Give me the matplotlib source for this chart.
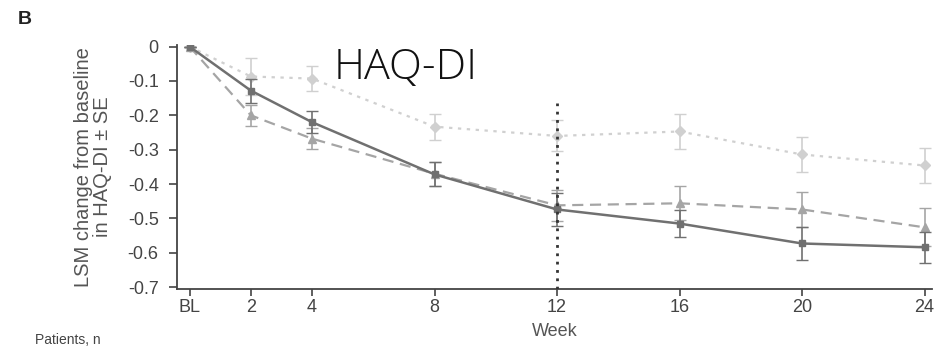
import matplotlib.pyplot as plt

plt.rcParams['font.family'] = ['Liberation Sans', 'DejaVu Sans']

# weeks on the x axis (BL = week 0)
weeks = [0, 2, 4, 8, 12, 16, 20, 24]
week_labels = ["BL", "2", "4", "8", "12", "16", "20", "24"]

# LSM change from baseline in HAQ-DI, with SE
solid_mean = [0, -0.128, -0.22, -0.372, -0.474, -0.515, -0.573, -0.584]
solid_se = [0, 0.035, 0.032, 0.035, 0.047, 0.04, 0.047, 0.045]

dashed_mean = [0, -0.20, -0.268, -0.37, -0.462, -0.456, -0.474, -0.526]
dashed_se = [0, 0.03, 0.03, 0.035, 0.045, 0.05, 0.05, 0.055]

dotted_mean = [0, -0.087, -0.093, -0.233, -0.26, -0.247, -0.314, -0.346]
dotted_se = [0, 0.053, 0.036, 0.038, 0.045, 0.05, 0.05, 0.052]

fig = plt.figure(figsize=(9.35, 3.48), dpi=100)
ax = fig.add_axes([0.189, 0.170, 0.808, 0.701])

ax.errorbar(weeks, dotted_mean, yerr=dotted_se, color="#d0d0d0", linestyle=(0, (1.5, 2.5)),
            linewidth=1.6, marker="D", markersize=5, capsize=4, elinewidth=1.2, zorder=2)
ax.errorbar(weeks, dashed_mean, yerr=dashed_se, color="#a5a5a5", linestyle=(0, (5, 3)),
            linewidth=1.6, marker="^", markersize=6, capsize=4, elinewidth=1.2, zorder=3)
ax.errorbar(weeks, solid_mean, yerr=solid_se, color="#707070", linestyle="-",
            linewidth=1.8, marker="s", markersize=5, capsize=4, elinewidth=1.2, zorder=4)

# week 12 reference line
ax.plot([12, 12], [-0.705, -0.163], color="#333333", linestyle=(0, (1, 2)), linewidth=2, zorder=5)

ax.set_xlim(-0.42, 24.25)
ax.set_ylim(-0.705, 0.005)
ax.set_xticks(weeks)
ax.set_xticklabels(week_labels)
ax.set_yticks([0, -0.1, -0.2, -0.3, -0.4, -0.5, -0.6, -0.7])
ax.set_yticklabels(["0", "-0.1", "-0.2", "-0.3", "-0.4", "-0.5", "-0.6", "-0.7"])

ax.spines["top"].set_visible(False)
ax.spines["right"].set_visible(False)
for s in ["left", "bottom"]:
    ax.spines[s].set_color("#444444")
    ax.spines[s].set_linewidth(1.3)
ax.tick_params(axis="both", direction="out", length=5, width=1.2, colors="#444444",
               labelsize=13, labelcolor="#444444")
ax.tick_params(axis="x", pad=2)
ax.tick_params(axis="y", length=6, pad=7)

ax.set_ylabel("LSM change from baseline\nin HAQ-DI ± SE", fontsize=14.5, color="#555555",
              labelpad=11, linespacing=1.05)
ax.set_xlabel("Week", fontsize=13, color="#555555", labelpad=5)

fig.text(0.434, 0.805, "HAQ-DI", fontsize=31, family=["Open Sans", "DejaVu Sans"],
         fontweight="light", color="#111111", ha="center", va="center")
fig.text(0.019, 0.945, "B", fontsize=14, fontweight="bold", color="#222222", va="center")
fig.text(0.037, 0.022, "Patients, n", fontsize=10, color="#444444", va="center")

fig.savefig("out.png", dpi=100)
